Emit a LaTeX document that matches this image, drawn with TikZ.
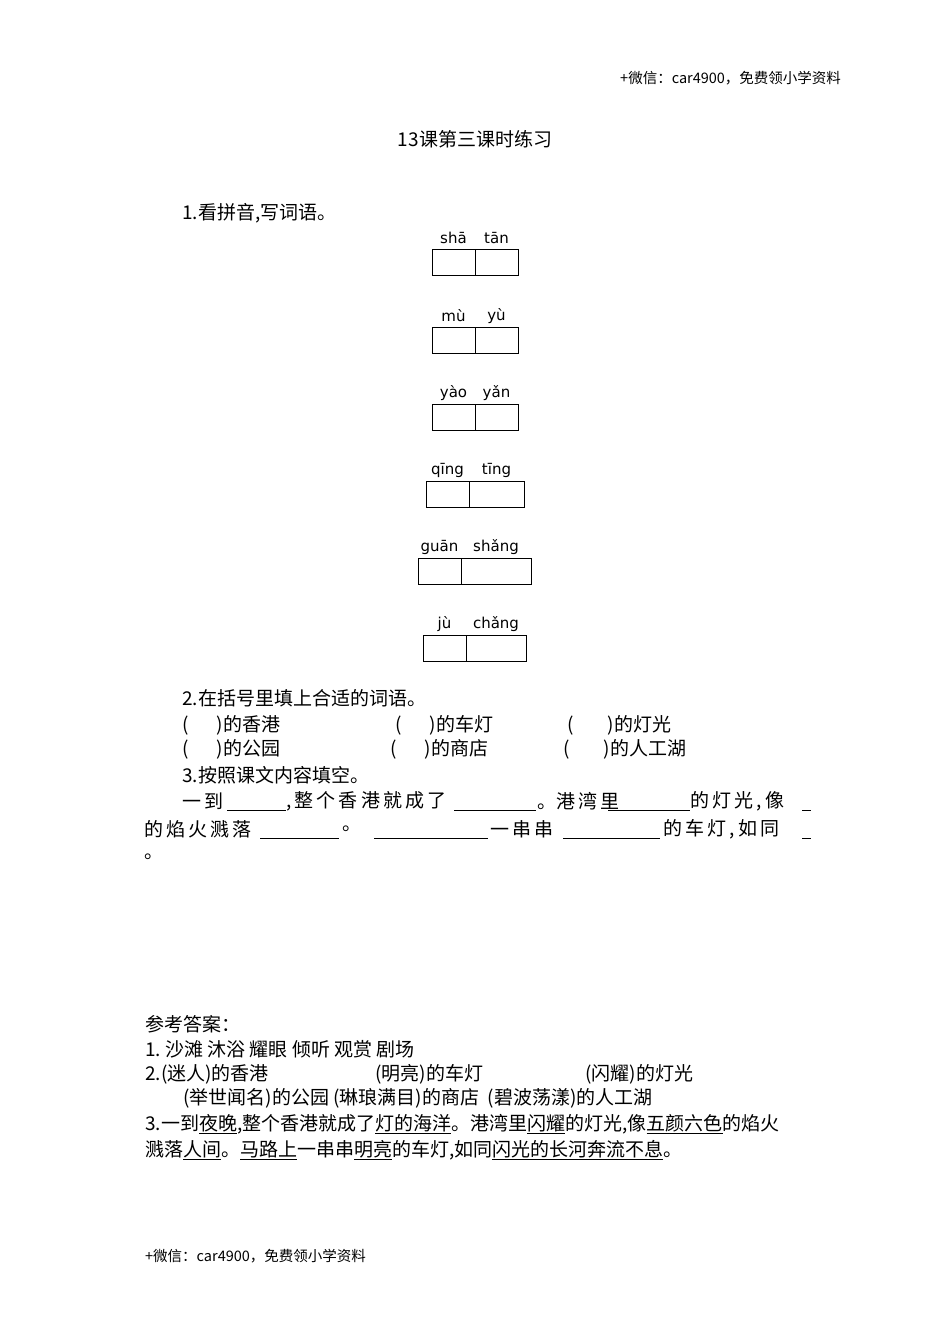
\documentclass[tikz,border=0pt]{standalone}
\usepackage{fontspec}
\setmainfont{Liberation Serif}
\newfontfamily\cjk{Noto Sans CJK SC}
\newfontfamily\pyf{DejaVu Sans}
\begin{document}
\begin{tikzpicture}[x=1pt,y=-1pt,
  t/.style={anchor=west,inner sep=0pt,font=\cjk\fontsize{19}{22}\selectfont},
  tc/.style={anchor=center,inner sep=0pt,font=\cjk\fontsize{19}{22}\selectfont},
  hd/.style={anchor=west,inner sep=0pt,font=\cjk\fontsize{14.5}{17}\selectfont},
  py/.style={anchor=center,inner sep=0pt,font=\pyf\fontsize{15}{18}\selectfont},
  cell/.style={draw,line width=0.9pt},
  bl/.style={line width=0.8pt}]
\useasboundingbox (0,0) rectangle (950,1344);
\node[hd] (h1) at (620,78) {+微信：car4900，免费领小学资料};
\node[tc] (ti) at (475,139) {13课第三课时练习};
\node[t] (q1) at (182,213) {1.看拼音,写词语。};
% pinyin boxes
\foreach \a/\b/\c/\y/\p/\q/\n in {432/475/518/249/shā/tān/a,432/475/518/327/mù/yù/b,432/475/518/404/yào/yǎn/c,426/469/524/481/qīng/tīng/d,418/461/531/558/guān/shǎng/e,423/466/526/635/jù/chǎng/f}{
  \draw[cell] (\a,\y) rectangle (\b,\y+26);
  \draw[cell] (\b,\y) rectangle (\c,\y+26);
  \node[py] (p\n1) at ({(\a+\b)/2},\y-11) {\p};
  \node[py] (p\n2) at ({(\b+\c)/2},\y-11) {\q};
}
\node[t] (q2) at (182,698) {2.在括号里填上合适的词语。};
\node[t] (a1) at (182,725) {(\hspace{28pt})的香港};
\node[t] (a2) at (395,725) {(\hspace{28pt})的车灯};
\node[t] (a3) at (567,725) {(\hspace{34pt})的灯光};
\node[t] (b1) at (182,749) {(\hspace{28pt})的公园};
\node[t] (b2) at (390,749) {(\hspace{28pt})的商店};
\node[t] (b3) at (563,749) {(\hspace{34pt})的人工湖};
\node[t] (q3) at (182,775) {3.按照课文内容填空。};
% line 1
\node[t] (l1a) at (182,801) {一\,到};
\draw[bl] (227,810) -- (286,810);
\node[t] (l1b) at (286,801) {,\,整\,个\,香\,港\,就\,成\,了};
\draw[bl] (454,810) -- (536,810);
\node[t] (l1c) at (537,801) {。港\,湾\,里};
\draw[bl] (608,810) -- (690,810);
\node[t] (l1d) at (690,801) {的\,灯\,光\,,\,像};
\draw[bl] (802,810) -- (811,810);
% line 2
\node[t] (l2a) at (144,829) {的\,焰\,火\,溅\,落};
\draw[bl] (260,838) -- (339,838);
\node[t] (l2b) at (342,829) {。};
\draw[bl] (374,838) -- (488,838);
\node[t] (l2c) at (490,829) {一\,串\,串};
\draw[bl] (563,838) -- (660,838);
\node[t] (l2d) at (663,829) {的\,车\,灯\,,\,如\,同};
\draw[bl] (802,838) -- (811,838);
\node[t] (l3) at (144,857) {。};
% answers
\node[t] (r0) at (145,1024) {参考答案：};
\node[t] (r1) at (145,1049) {1.\ 沙滩\ 沐浴\ 耀眼\ 倾听\ 观赏\ 剧场};
\node[t] (r2a) at (145,1074) {2.(迷人)的香港};
\node[t] (r2b) at (375,1074) {(明亮)的车灯};
\node[t] (r2c) at (585,1074) {(闪耀)的灯光};
\node[t] (r3) at (183,1098) {(举世闻名)的公园\ (琳琅满目)的商店\ \ (碧波荡漾)的人工湖};
\node[t] (r4) at (145,1124) {3.一到\underline{夜晚},整个香港就成了\underline{灯的海洋}。港湾里\underline{闪耀}的灯光,像\underline{五颜六色}的焰火};
\node[t] (r5) at (145,1150) {溅落\underline{人间}。\underline{马路上}一串串\underline{明亮}的车灯,如同\underline{闪光的长河奔流不息}。};
\node[hd] (f1) at (145,1256) {+微信：car4900，免费领小学资料};
\end{tikzpicture}
\end{document}
